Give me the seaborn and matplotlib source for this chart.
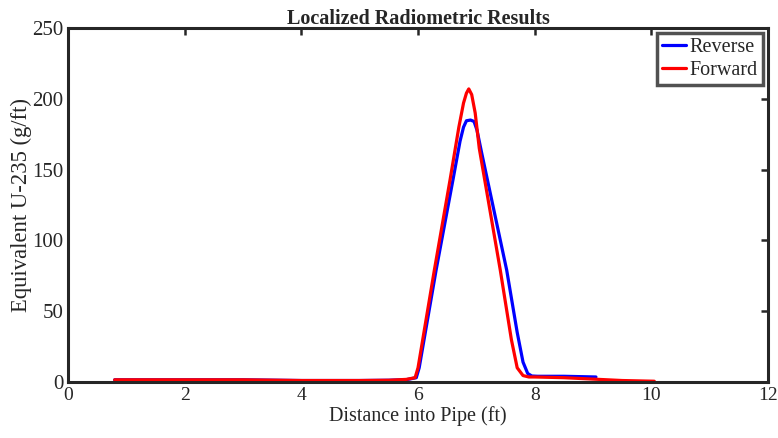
import seaborn as sns
import pandas as pd
import numpy as np
import matplotlib.pyplot as plt

# Reverse scan (blue)
rev_x = [0.8, 1.5, 2.0, 3.0, 4.0, 5.0, 5.5, 5.8, 5.97, 6.02, 6.31, 6.6, 6.72, 6.78, 6.83, 6.9, 6.96, 7.01, 7.09, 7.52, 7.7, 7.8, 7.88, 7.95, 8.05, 8.5, 9.05]
rev_y = [1.5, 1.5, 1.5, 1.5, 1.0, 1.0, 1.2, 1.6, 3.0, 10, 79, 143, 170, 180, 184.5, 185, 184, 178, 162, 79, 35, 14, 6, 4.2, 4.0, 4.0, 3.5]

# Forward scan (red)
fwd_x = [0.8, 1.5, 2.0, 3.0, 4.0, 5.0, 5.5, 5.8, 5.95, 6.0, 6.28, 6.55, 6.7, 6.78, 6.83, 6.87, 6.92, 6.98, 7.05, 7.41, 7.6, 7.7, 7.8, 7.9, 8.0, 8.5, 9.0, 9.5, 10.05]
fwd_y = [1.5, 1.5, 1.5, 1.5, 1.0, 1.0, 1.2, 1.8, 3.0, 10, 79, 143, 180, 197, 204, 207, 203, 190, 165, 79, 30, 10, 4.5, 3.5, 3.5, 3.0, 2.0, 1.0, 0.5]

df = pd.concat([
    pd.DataFrame({'x': rev_x, 'y': rev_y, 'scan': 'Reverse'}),
    pd.DataFrame({'x': fwd_x, 'y': fwd_y, 'scan': 'Forward'}),
])

sns.set_style('white')
plt.rcParams['font.family'] = ['Liberation Serif', 'DejaVu Serif']

fig = plt.figure(figsize=(7.78, 4.38), dpi=100)
ax = fig.add_axes([0.0874, 0.128, 0.8998, 0.808])
sns.lineplot(data=df, x='x', y='y', hue='scan', palette={'Reverse': '#0000ff', 'Forward': '#ff0000'},
             sort=False, linewidth=2.3, ax=ax)

ax.set_xlim(0, 12)
ax.set_ylim(0, 250)
ax.set_xticks(range(0, 13, 2))
ax.set_yticks(range(0, 251, 50))
ax.tick_params(direction='in', length=5, width=1.8, top=True, right=True, colors='#262626')
ax.tick_params(axis='x', labelsize=14)
ax.tick_params(axis='y', labelsize=15)
for s in ax.spines.values():
    s.set_linewidth(2.2)
    s.set_color('#262626')
ax.set_xlabel('Distance into Pipe (ft)', fontsize=14.5, color='#262626', labelpad=2)
ax.set_ylabel('Equivalent U-235 (g/ft)', fontsize=16.3, color='#262626', labelpad=0)
ax.set_title('Localized Radiometric Results', fontsize=14.5, fontweight='bold', pad=3)

leg = ax.legend(loc='upper right', fontsize=14.5, handlelength=1.2, handletextpad=0.2,
                borderpad=0.25, labelspacing=0.2, fancybox=False, borderaxespad=0.25)
leg.get_frame().set_edgecolor('#262626')
leg.get_frame().set_linewidth(2.5)

fig.savefig('out.png', dpi=100)
